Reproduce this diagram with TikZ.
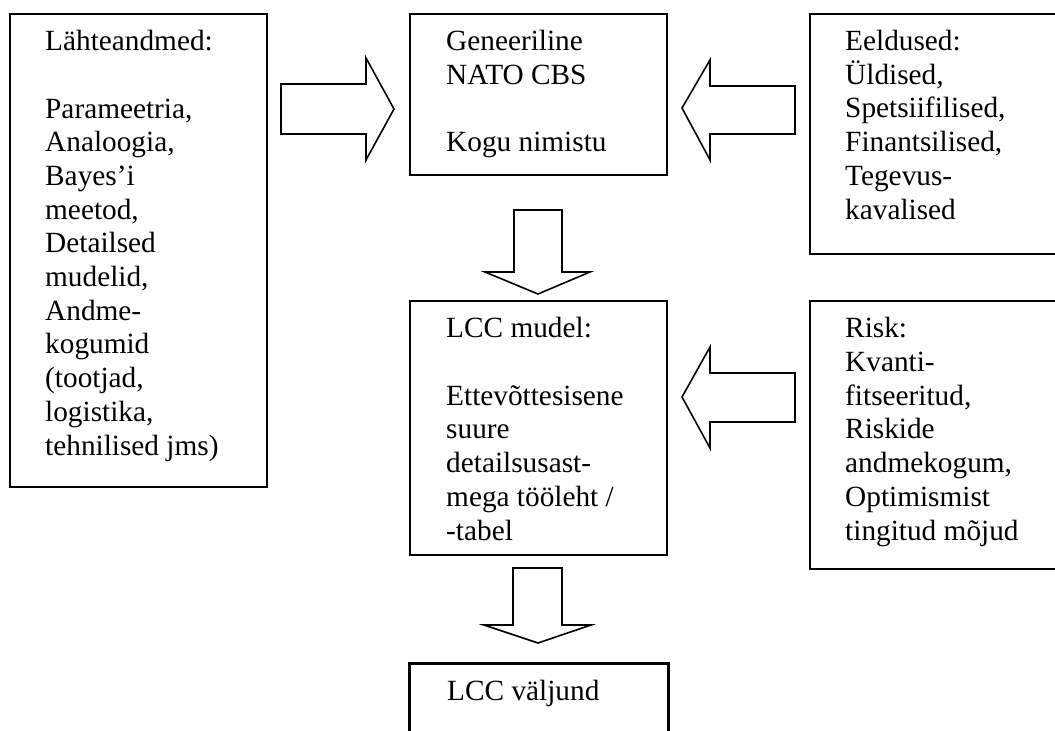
\documentclass[tikz,border=0pt]{standalone}
\usepackage{fontspec}
\setmainfont{Liberation Serif}
\begin{document}
\begin{tikzpicture}[x=1pt,y=-1pt,
  box/.style={draw,line width=1.6pt,inner sep=0pt,anchor=north west},
  outbox/.style={box,line width=2.6pt},
  % multi-line texts are placed by the baseline of their last line
  txt/.style={anchor=base west,align=left,inner sep=0pt,
    font=\fontsize{29.3}{33.7}\selectfont},
  blockarrow/.style={draw,line width=1.6pt,line join=miter,fill=white}]
\useasboundingbox (0,0) rectangle (1055,731);

% boxes
\node[box,minimum width=257pt,minimum height=473pt] (src) at (9,13) {};
\node[box,minimum width=257pt,minimum height=161pt] (cbs) at (409,13) {};
\node[box,minimum width=270pt,minimum height=240pt] (ass) at (809,13) {};
\node[box,minimum width=257pt,minimum height=254pt] (lcc) at (409,300) {};
\node[box,minimum width=270pt,minimum height=268pt] (risk) at (809,300) {};
\node[outbox,minimum width=259pt,minimum height=100pt] (out) at (408,662) {};

% texts
\node[txt] (srct) at (45,455) {L\"ahteandmed:\\[33.7pt]Parameetria,\\Analoogia,\\Bayes’i\\meetod,\\Detailsed\\mudelid,\\Andme-\\kogumid\\(tootjad,\\logistika,\\tehnilised jms)};
\node[txt] (cbst) at (446,151.7) {Geneeriline\\NATO CBS\\[33.7pt]Kogu nimistu};
\node[txt] (asst) at (845,219) {Eeldused:\\\"Uldised,\\Spetsiifilised,\\Finantsilised,\\Tegevus-\\kavalised};
\node[txt] (lcct) at (446,540) {LCC mudel:\\[33.7pt]Ettev\~ottesisene\\suure\\detailsusast-\\mega t\"o\"oleht /\\-tabel};
\node[txt] (riskt) at (845,540) {Risk:\\Kvanti-\\fitseeritud,\\Riskide\\andmekogum,\\Optimismist\\tingitud m\~ojud};
\node[txt] (outt) at (447,700.5) {LCC v\"aljund};

% block arrows
\draw[blockarrow] (281,84) -- (366,84) -- (366,58) -- (394,109) -- (366,160)
  -- (366,134) -- (281,134) -- cycle;
\draw[blockarrow] (795,86) -- (710,86) -- (710,60) -- (682,108) -- (710,160)
  -- (710,134) -- (795,134) -- cycle;
\draw[blockarrow] (795,373) -- (710,373) -- (710,347) -- (682,397) -- (710,448)
  -- (710,422) -- (795,422) -- cycle;
\draw[blockarrow] (514,210) -- (562,210) -- (562,272) -- (590,272) -- (538,294)
  -- (485,272) -- (514,272) -- cycle;
\draw[blockarrow] (513,568) -- (562,568) -- (562,625) -- (591,625) -- (538,643)
  -- (484,625) -- (513,625) -- cycle;
\end{tikzpicture}
\end{document}
